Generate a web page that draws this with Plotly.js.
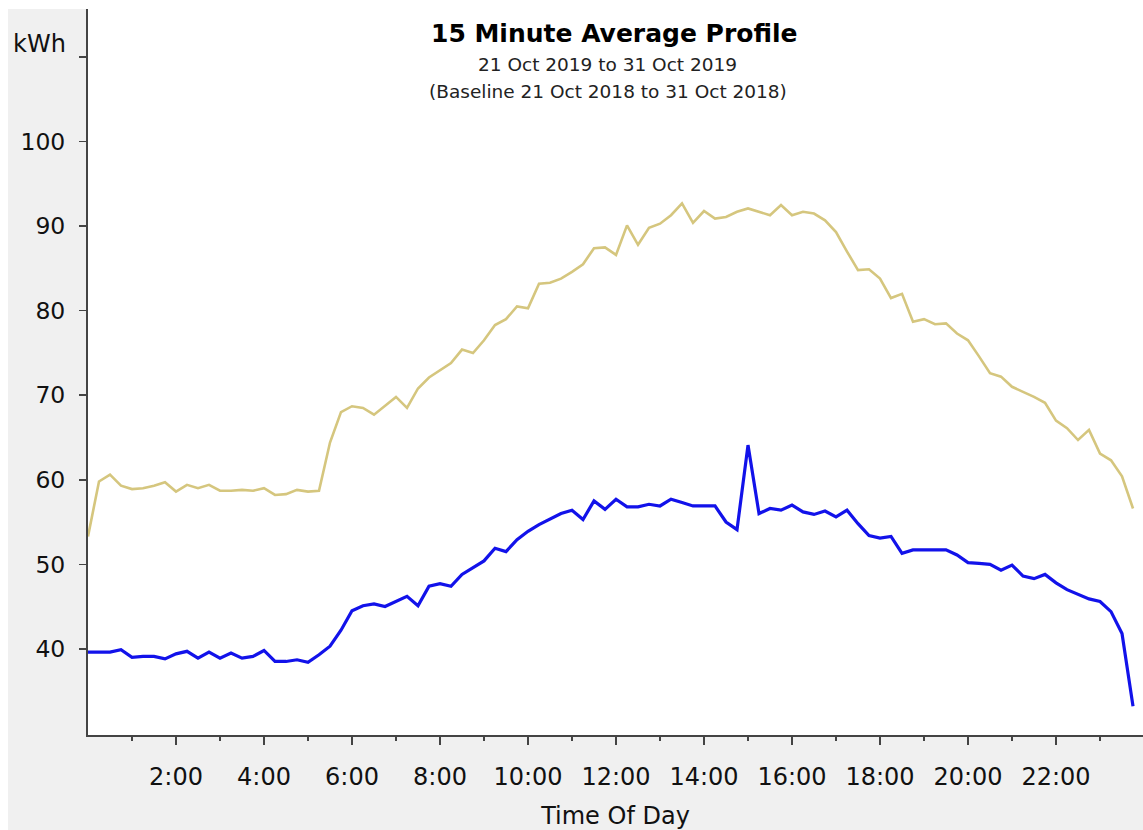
<!DOCTYPE html>
<html>
<head>
<meta charset="utf-8">
<script src="https://cdn.plot.ly/plotly-3.0.1.min.js"></script>
<style>
  html, body { margin: 0; padding: 0; background: #ffffff; width: 1143px; height: 830px; overflow: hidden; }
  #chart { position: absolute; left: 8px; top: 9px; width: 1135px; height: 821px; }
</style>
</head>
<body>
<div id="chart"></div>
<script>
// ---- Data (15-minute intervals, 0:00 .. 23:45) ----
const timeOfDay = [
  "0:00","0:15","0:30","0:45","1:00","1:15","1:30","1:45","2:00","2:15","2:30","2:45",
  "3:00","3:15","3:30","3:45","4:00","4:15","4:30","4:45","5:00","5:15","5:30","5:45",
  "6:00","6:15","6:30","6:45","7:00","7:15","7:30","7:45","8:00","8:15","8:30","8:45",
  "9:00","9:15","9:30","9:45","10:00","10:15","10:30","10:45","11:00","11:15","11:30","11:45",
  "12:00","12:15","12:30","12:45","13:00","13:15","13:30","13:45","14:00","14:15","14:30","14:45",
  "15:00","15:15","15:30","15:45","16:00","16:15","16:30","16:45","17:00","17:15","17:30","17:45",
  "18:00","18:15","18:30","18:45","19:00","19:15","19:30","19:45","20:00","20:15","20:30","20:45",
  "21:00","21:15","21:30","21:45","22:00","22:15","22:30","22:45","23:00","23:15","23:30","23:45"
];

// Baseline profile (21 Oct 2018 to 31 Oct 2018) - khaki line
const baselineKWh = [
  53.3, 59.8, 60.6, 59.3, 58.9, 59.0, 59.3, 59.7, 58.6, 59.4,
  59.0, 59.4, 58.7, 58.7, 58.8, 58.7, 59.0, 58.2, 58.3, 58.8,
  58.6, 58.7, 64.4, 68.0, 68.7, 68.5, 67.7, 68.8, 69.8, 68.5,
  70.8, 72.1, 72.9, 73.8, 75.4, 75.0, 76.5, 78.3, 79.0, 80.5,
  80.3, 83.2, 83.3, 83.8, 84.6, 85.5, 87.4, 87.5, 86.6, 90.1,
  87.8, 89.8, 90.3, 91.3, 92.7, 90.4, 91.8, 90.9, 91.1, 91.7,
  92.1, 91.7, 91.3, 92.5, 91.3, 91.7, 91.5, 90.7, 89.3, 87.0,
  84.8, 84.9, 83.8, 81.5, 82.0, 78.7, 79.0, 78.4, 78.5, 77.3,
  76.5, 74.6, 72.6, 72.2, 71.0, 70.4, 69.8, 69.1, 67.0, 66.1,
  64.7, 65.9, 63.1, 62.3, 60.4, 56.6
];

// Current profile (21 Oct 2019 to 31 Oct 2019) - blue line
const currentKWh = [
  39.6, 39.6, 39.6, 39.9, 39.0, 39.1, 39.1, 38.8, 39.4, 39.7,
  38.9, 39.6, 38.9, 39.5, 38.9, 39.1, 39.8, 38.5, 38.5, 38.7,
  38.4, 39.3, 40.3, 42.2, 44.5, 45.1, 45.3, 45.0, 45.6, 46.2,
  45.1, 47.4, 47.7, 47.4, 48.8, 49.6, 50.4, 51.9, 51.5, 52.9,
  53.9, 54.7, 55.3, 56.0, 56.4, 55.3, 57.5, 56.5, 57.7, 56.8,
  56.8, 57.1, 56.9, 57.7, 57.3, 56.9, 56.9, 56.9, 55.0, 54.1,
  64.1, 56.0, 56.6, 56.4, 57.0, 56.2, 55.9, 56.3, 55.6, 56.4,
  54.8, 53.4, 53.1, 53.3, 51.3, 51.7, 51.7, 51.7, 51.7, 51.1,
  50.2, 50.1, 50.0, 49.3, 49.9, 48.6, 48.3, 48.8, 47.8, 47.0,
  46.4, 45.9, 45.6, 44.4, 41.8, 33.2
];

// Axis ticks
const xTickHours = [2, 4, 6, 8, 10, 12, 14, 16, 18, 20, 22];
const xTickLabels = ["2:00","4:00","6:00","8:00","10:00","12:00","14:00","16:00","18:00","20:00","22:00"];
const xMinorHours = [1, 3, 5, 7, 9, 11, 13, 15, 17, 19, 21, 23];
const yTickValues = [40, 50, 60, 70, 80, 90, 100, 110];
const yTickLabels = ["40", "50", "60", "70", "80", "90", "100", ""];

// ---- Build ----
const hours = timeOfDay.map(t => { const [h, m] = t.split(":").map(Number); return h + m / 60; });

// plot area in page pixels: x 88..1143, y 9..735
const PL = 88, PW = 1055, PT = 9, PH = 726;
const px = p => (p - PL) / PW;
const py = p => 1 - (p - PT) / PH;

const font = "DejaVu Sans, Verdana, sans-serif";

const traces = [
  {
    x: hours, y: baselineKWh, type: "scatter", mode: "lines",
    name: "Baseline", line: { color: "#d5c67e", width: 2.6 },
    hoverinfo: "skip"
  },
  {
    x: hours, y: currentKWh, type: "scatter", mode: "lines",
    name: "Current", line: { color: "#1212ea", width: 3.2 },
    hoverinfo: "skip"
  }
];

const layout = {
  width: 1135, height: 821,
  margin: { l: 80, r: 0, t: 0, b: 95, pad: 0 },
  paper_bgcolor: "#f0f0f0",
  plot_bgcolor: "#ffffff",
  showlegend: false,
  font: { family: font, color: "#111" },
  xaxis: {
    range: [0, 23.977],
    tickmode: "array", tickvals: xTickHours, ticktext: xTickLabels,
    ticks: "outside", ticklen: 8, tickwidth: 1.5, tickcolor: "#444",
    minor: { tickmode: "array", tickvals: xMinorHours, ticks: "outside", ticklen: 4, tickwidth: 1.5, tickcolor: "#444", showgrid: false },
    showline: true, linecolor: "#444", linewidth: 2,
    showgrid: false, zeroline: false,
    tickfont: { family: font, size: 24, color: "#111" },
    ticklabelstandoff: 11,
    title: { text: "Time Of Day", font: { family: font, size: 24, color: "#111" }, standoff: 19 },
    automargin: false, fixedrange: true
  },
  yaxis: {
    range: [29.8, 115.7],
    tickmode: "array", tickvals: yTickValues, ticktext: yTickLabels,
    ticks: "outside", ticklen: 7, tickwidth: 1.5, tickcolor: "#444",
    showline: true, linecolor: "#444", linewidth: 2,
    showgrid: false, zeroline: false,
    tickfont: { family: font, size: 23.5, color: "#111" },
    ticklabelstandoff: 9,
    automargin: false, fixedrange: true
  },
  annotations: [
    { text: "<b>15 Minute Average Profile</b>", xref: "paper", yref: "paper",
      x: px(614), y: py(34), xanchor: "center", yanchor: "middle", showarrow: false,
      font: { family: font, size: 25, color: "#000" } },
    { text: "21 Oct 2019 to 31 Oct 2019", xref: "paper", yref: "paper",
      x: px(607), y: py(64), xanchor: "center", yanchor: "middle", showarrow: false,
      font: { family: font, size: 18.5, color: "#222" } },
    { text: "(Baseline 21 Oct 2018 to 31 Oct 2018)", xref: "paper", yref: "paper",
      x: px(607.5), y: py(91), xanchor: "center", yanchor: "middle", showarrow: false,
      font: { family: font, size: 18.5, color: "#222" } },
    { text: "kWh", xref: "paper", yref: "paper",
      x: px(39.7), y: py(44), xanchor: "center", yanchor: "middle", showarrow: false,
      font: { family: font, size: 24, color: "#111" } }
  ]
};

Plotly.newPlot("chart", traces, layout, { displayModeBar: false, staticPlot: true });
</script>
</body>
</html>
